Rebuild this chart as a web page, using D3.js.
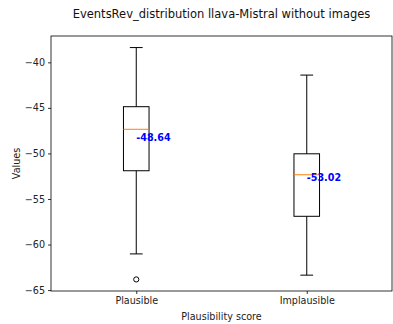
<!DOCTYPE html>
<html><head><meta charset="utf-8">
<script src="https://cdn.jsdelivr.net/npm/d3@7"></script>
<style>body{margin:0;background:#fff}svg{display:block}text{font-family:"DejaVu Sans",sans-serif}</style>
</head><body>
<script>
const categories = ["Plausible", "Implausible"];
const whiskerHigh = [-38.38, -41.40];
const q3 = [-44.87, -50.04];
const medians = [-47.35, -52.34];
const q1 = [-51.90, -56.90];
const whiskerLow = [-61.03, -63.36];
const outliers = [[-63.83], []];
const means = [-48.64, -53.02];
const yTicks = [-40, -45, -50, -55, -60, -65];
const title = "EventsRev_distribution llava-Mistral without images";

const W = 393, H = 324;
const m = {left: 51, right: 1, top: 36, bottom: 33};
const fs = 9.6;
const svg = d3.select("body").append("svg").attr("width", W).attr("height", H);
const x = d3.scaleLinear().domain([0.5, 2.5]).range([m.left, W - m.right]);
const y = d3.scaleLinear().domain([-65.10, -37.11]).range([H - m.bottom, m.top]);
const bw = x(1.15) - x(1);

const g = svg.append("g");
categories.forEach((c, i) => {
  const cx = x(i + 1);
  const stroke = "#000";
  g.append("line").attr("x1", cx).attr("x2", cx).attr("y1", y(q3[i])).attr("y2", y(whiskerHigh[i])).attr("stroke", stroke);
  g.append("line").attr("x1", cx).attr("x2", cx).attr("y1", y(q1[i])).attr("y2", y(whiskerLow[i])).attr("stroke", stroke);
  g.append("line").attr("x1", cx - bw / 4).attr("x2", cx + bw / 4).attr("y1", y(whiskerHigh[i])).attr("y2", y(whiskerHigh[i])).attr("stroke", stroke);
  g.append("line").attr("x1", cx - bw / 4).attr("x2", cx + bw / 4).attr("y1", y(whiskerLow[i])).attr("y2", y(whiskerLow[i])).attr("stroke", stroke);
  g.append("rect").attr("x", cx - bw / 2).attr("y", y(q3[i])).attr("width", bw).attr("height", y(q1[i]) - y(q3[i]))
    .attr("fill", "none").attr("stroke", stroke);
  g.append("line").attr("x1", cx - bw / 2).attr("x2", cx + bw / 2).attr("y1", y(medians[i])).attr("y2", y(medians[i])).attr("stroke", "#ff7f0e");
  outliers[i].forEach(v => {
    g.append("circle").attr("cx", cx).attr("cy", y(v)).attr("r", 2.6).attr("fill", "none").attr("stroke", stroke);
  });
  g.append("text").attr("x", cx).attr("y", y(means[i])).attr("fill", "#0000ff").attr("font-weight", "bold")
    .attr("font-size", fs).text(means[i].toFixed(2));
});

// frame
svg.append("rect").attr("x", m.left).attr("y", m.top).attr("width", W - m.right - m.left).attr("height", H - m.bottom - m.top)
  .attr("fill", "none").attr("stroke", "#000").attr("stroke-width", 0.8);

const yAxis = svg.append("g").attr("transform", `translate(${m.left},0)`)
  .call(d3.axisLeft(y).tickValues(yTicks).tickSize(3).tickPadding(3).tickFormat(d => String(d).replace("-", "\u2212")));
const xAxis = svg.append("g").attr("transform", `translate(0,${H - m.bottom})`)
  .call(d3.axisBottom(x).tickValues([1, 2]).tickSize(3).tickPadding(3).tickFormat((d) => categories[d - 1]));
[yAxis, xAxis].forEach(a => {
  a.select(".domain").remove();
  a.selectAll("text").attr("font-size", fs).attr("fill", "#222").attr("font-family", "DejaVu Sans");
  a.selectAll("line").attr("stroke", "#000").attr("stroke-width", 0.8);
});

svg.append("text").attr("x", (m.left + W - m.right) / 2).attr("y", 320).attr("text-anchor", "middle")
  .attr("font-size", fs).attr("fill", "#222").text("Plausibility score");
svg.append("text").attr("transform", `translate(20,${(m.top + H - m.bottom) / 2}) rotate(-90)`).attr("text-anchor", "middle")
  .attr("font-size", fs).attr("fill", "#222").text("Values");
svg.append("text").attr("x", (m.left + W - m.right) / 2).attr("y", 18).attr("text-anchor", "middle")
  .attr("font-size", 11.5).attr("fill", "#111").text(title);
</script>
</body></html>
